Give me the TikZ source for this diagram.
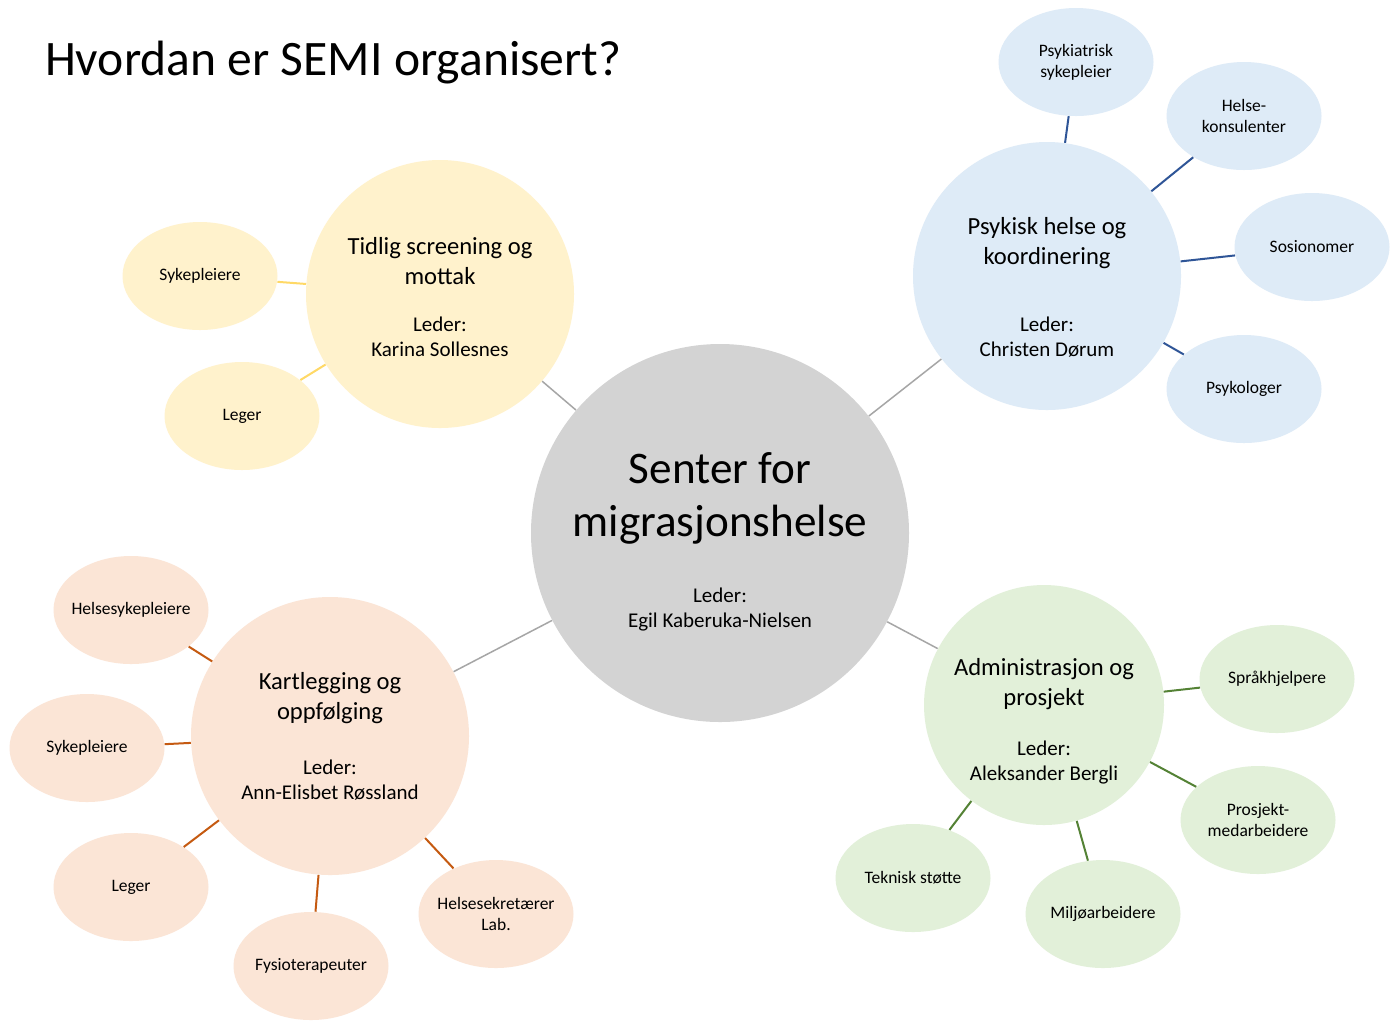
\documentclass[tikz,border=0pt]{standalone}
\usepackage{fontspec}
\setmainfont{Carlito}
\usetikzlibrary{shapes.geometric}
\definecolor{hubgray}{HTML}{D3D3D3}
\definecolor{linegray}{HTML}{A6A6A6}
\definecolor{yelfill}{HTML}{FFF2CC}
\definecolor{yelline}{HTML}{FFD966}
\definecolor{bluefill}{HTML}{DEEBF7}
\definecolor{blueline}{HTML}{2F5597}
\definecolor{orgfill}{HTML}{FBE5D6}
\definecolor{orgline}{HTML}{C55A11}
\definecolor{grnfill}{HTML}{E2F0D9}
\definecolor{grnline}{HTML}{548235}
\newcommand{\ldrfont}{\fontsize{10.5}{12.5}\selectfont}
\tikzset{
  hub/.style={circle,fill=hubgray,inner sep=0pt,minimum size=189pt,align=center,
    font=\fontsize{22.6}{26.5}\selectfont},
  unit/.style={circle,inner sep=0pt,align=center,font=\fontsize{12.3}{15}\selectfont},
  sat/.style={ellipse,inner xsep=-14pt,inner ysep=-10pt,minimum width=77.5pt,minimum height=54pt,
    align=center,font=\fontsize{8.75}{10.5}\selectfont},
  link/.style={line width=1pt}
}
\begin{document}
\begin{tikzpicture}[x=0.5pt,y=-0.5pt]
\fill[white] (0,0) rectangle (1400,1030);
\useasboundingbox (0,0) rectangle (1400,1030);
\node[anchor=base west,font=\fontsize{24.8}{29}\selectfont] (title) at (38,75) {Hvordan er SEMI organisert?};
% senteret
\node[hub,text height=96.3pt] (semi) at (720,533) {Senter for\\migrasjonshelse\\[6.5pt]
  \ldrfont Leder:\\[-14pt]\ldrfont Egil Kaberuka-Nielsen};
% tidlig screening
\node[unit,fill=yelfill,minimum size=134pt,text height=62.6pt] (tsm) at (440,294) {Tidlig screening og\\mottak\\[8.5pt]
  \ldrfont Leder:\\[-2.5pt]\ldrfont Karina Sollesnes};
\node[sat,fill=yelfill] (tsmsyk) at (200,276) {Sykepleiere};
\node[sat,fill=yelfill] (tsmleg) at (242,416) {Leger};
% psykisk helse
\node[unit,fill=bluefill,minimum size=134pt,text height=80.6pt] (phk) at (1047,276) {Psykisk helse og\\koordinering\\[18.5pt]
  \ldrfont Leder:\\[-2.5pt]\ldrfont Christen Dørum};
\node[sat,fill=bluefill] (phkpsy) at (1076,62) {Psykiatrisk\\sykepleier};
\node[sat,fill=bluefill] (phkhel) at (1244,116) {Helse-\\konsulenter};
\node[sat,fill=bluefill] (phksos) at (1312,247) {Sosionomer};
\node[sat,fill=bluefill] (phkpsk) at (1244,389) {Psykologer};
% kartlegging
\node[unit,fill=orgfill,minimum size=139pt] (kof) at (330,736) {Kartlegging og\\oppfølging\\[12.5pt]
  \ldrfont Leder:\\[-2.5pt]\ldrfont Ann-Elisbet Røssland};
\node[sat,fill=orgfill] (kofhsp) at (131,610) {Helsesykepleiere};
\node[sat,fill=orgfill] (kofsyk) at (87,748) {Sykepleiere};
\node[sat,fill=orgfill] (kofleg) at (131,887) {Leger};
\node[sat,fill=orgfill] (koffys) at (311,966) {Fysioterapeuter};
\node[sat,fill=orgfill] (kofsek) at (496,914) {Helsesekretærer\\Lab.};
% administrasjon
\node[unit,fill=grnfill,minimum size=119pt,text height=77.6pt] (adm) at (1044,705) {Administrasjon og\\prosjekt\\[10pt]
  \ldrfont Leder:\\[-2.5pt]\ldrfont Aleksander Bergli};
\node[sat,fill=grnfill] (admspr) at (1277,679) {Språkhjelpere};
\node[sat,fill=grnfill] (admpro) at (1258,820) {Prosjekt-\\medarbeidere};
\node[sat,fill=grnfill] (admtek) at (913,878) {Teknisk støtte};
\node[sat,fill=grnfill] (admmil) at (1103,914) {Miljøarbeidere};
% linjer
\draw[linegray,line width=0.75pt] (semi)--(tsm) (semi)--(phk) (semi)--(kof) (semi)--(adm);
\draw[link,yelline] (tsm)--(tsmsyk) (tsm)--(tsmleg);
\draw[link,blueline] (phk)--(phkpsy) (phk)--(phkhel) (phk)--(phksos) (phk)--(phkpsk);
\draw[link,orgline] (kof)--(kofhsp) (kof)--(kofsyk) (kof)--(kofleg) (kof)--(koffys) (kof)--(kofsek);
\draw[link,grnline] (adm)--(admspr) (adm)--(admpro) (adm)--(admtek) (adm)--(admmil);
\end{tikzpicture}
\end{document}
